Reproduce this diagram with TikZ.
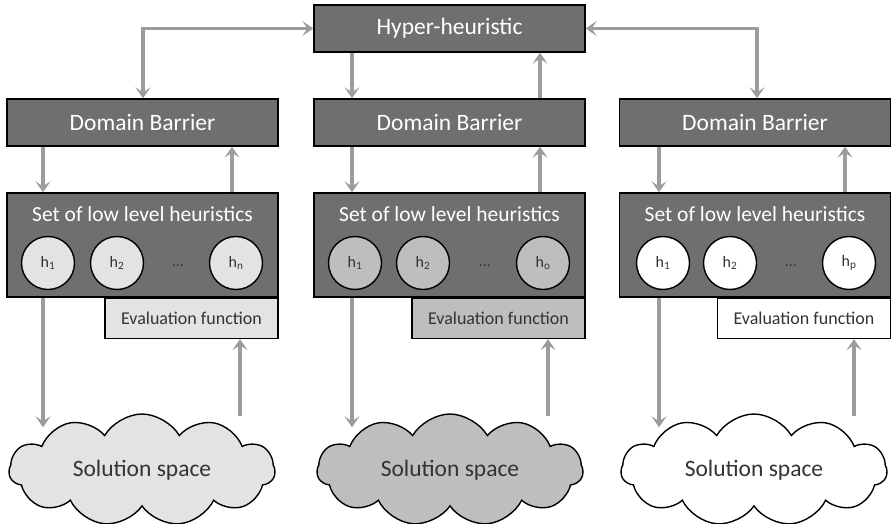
\documentclass[tikz,border=0pt]{standalone}
\usepackage{fontspec}
\setmainfont{Carlito}
\usetikzlibrary{arrows.meta,shapes.symbols,positioning}
\definecolor{boxgray}{HTML}{6F6F6F}
\definecolor{flowgray}{HTML}{9C9C9C}
\definecolor{lightfill}{HTML}{E3E3E3}
\definecolor{midfill}{HTML}{BEBEBE}
\definecolor{textgray}{HTML}{333333}
\tikzset{
  darkbox/.style={draw=black, line width=1.4pt, fill=boxgray, text=white,
    minimum width=271pt, minimum height=47pt, inner sep=0pt,
    font=\fontsize{23.5}{23.5}\selectfont},
  llhbox/.style={darkbox, minimum height=104pt},
  llhtitle/.style={text=white, inner sep=0pt, font=\fontsize{21.5}{21.5}\selectfont},
  evalbox/.style={draw=black, line width=1.4pt, text=textgray, minimum width=173pt,
    minimum height=40pt, inner sep=0pt, font=\fontsize{18}{18}\selectfont},
  hcircle/.style={circle, draw=black, line width=1.4pt, minimum size=53pt, inner sep=0pt,
    text=textgray, font=\fontsize{16}{16}\selectfont},
  hdots/.style={text=textgray, inner sep=0pt, font=\fontsize{16}{16}\selectfont},
  solcloud/.style={cloud, cloud puffs=11, cloud puff arc=120, aspect=2.5, draw=black,
    line width=1.4pt, minimum width=266pt, minimum height=112pt, inner sep=0pt,
    text=textgray, font=\fontsize{23.5}{23.5}\selectfont},
  flow/.style={draw=flowgray, line width=3.5pt,
    -{Stealth[length=11pt, width=15pt, inset=5pt]}},
  twoway/.style={flow, {Stealth[length=11pt, width=15pt, inset=5pt]}-{Stealth[length=11pt, width=15pt, inset=5pt]}}
}
\begin{document}
\begin{tikzpicture}[x=1pt, y=-1pt]
    \useasboundingbox (0,0) rectangle (891,524);
    % columns of the arrows
    \coordinate (tl) at (143,0);
    \coordinate (tr) at (757,0);
    \coordinate (dn1) at (43,0);
    \coordinate (up1) at (232,0);
    \coordinate (up1b) at (240,0);
    \coordinate (dn2) at (352,0);
    \coordinate (up2) at (540,0);
    \coordinate (up2b) at (548,0);
    \coordinate (dn3) at (659,0);
    \coordinate (up3) at (845,0);
    \coordinate (up3b) at (854,0);

    \node[darkbox] (hyp) at (449.5,28.5) {Hyper-heuristic};

    % left column
    \node[darkbox] (db1) at (142.5,122.5) {Domain Barrier};
    \node[llhbox] (llh1) at (142.5,245) {};
    \node[llhtitle] (t1) at (142.5,214) {Set of low level heuristics};
    \node[hcircle, fill=lightfill] (h11) at (48,263) {h\textsubscript{1}};
    \node[hcircle, fill=lightfill] (h12) at (117,263) {h\textsubscript{2}};
    \node[hdots] (d1) at (178,266) {\ldots};
    \node[hcircle, fill=lightfill] (h1n) at (236,263) {h\textsubscript{n}};
    \node[evalbox, fill=lightfill, anchor=north east] (ev1) at (llh1.south east) {Evaluation function};
    \node[solcloud, fill=lightfill] (sol1) at (142,470) {Solution space};

    % middle column
    \node[darkbox] (db2) at (449.5,122.5) {Domain Barrier};
    \node[llhbox] (llh2) at (449.5,245) {};
    \node[llhtitle] (t2) at (449.5,214) {Set of low level heuristics};
    \node[hcircle, fill=midfill] (h21) at (355,263) {h\textsubscript{1}};
    \node[hcircle, fill=midfill] (h22) at (423,263) {h\textsubscript{2}};
    \node[hdots] (d2) at (485,266) {\ldots};
    \node[hcircle, fill=midfill] (h2o) at (543,263) {h\textsubscript{o}};
    \node[evalbox, fill=midfill, anchor=north east] (ev2) at (llh2.south east) {Evaluation function};
    \node[solcloud, fill=midfill] (sol2) at (450,470) {Solution space};

    % right column
    \node[darkbox] (db3) at (755,122.5) {Domain Barrier};
    \node[llhbox] (llh3) at (755,245) {};
    \node[llhtitle] (t3) at (755,214) {Set of low level heuristics};
    \node[hcircle, fill=white] (h31) at (663,263) {h\textsubscript{1}};
    \node[hcircle, fill=white] (h32) at (730,263) {h\textsubscript{2}};
    \node[hdots] (d3) at (791,266) {\ldots};
    \node[hcircle, fill=white] (h3p) at (849,263) {h\textsubscript{p}};
    \node[evalbox, fill=white, anchor=north east] (ev3) at (llh3.south east) {Evaluation function};
    \node[solcloud, fill=white] (sol3) at (754,470) {Solution space};

    % hyper-heuristic <-> domain barriers
    \draw[twoway] (db1.north -| tl) |- (hyp.west);
    \draw[twoway] (db3.north -| tr) |- (hyp.east);
    \draw[flow] (hyp.south -| dn2) -- (db2.north -| dn2);
    \draw[flow] (db2.north -| up2) -- (hyp.south -| up2);

    % domain barriers <-> heuristics
    \draw[flow] (db1.south -| dn1) -- (llh1.north -| dn1);
    \draw[flow] (llh1.north -| up1) -- (db1.south -| up1);
    \draw[flow] (db2.south -| dn2) -- (llh2.north -| dn2);
    \draw[flow] (llh2.north -| up2) -- (db2.south -| up2);
    \draw[flow] (db3.south -| dn3) -- (llh3.north -| dn3);
    \draw[flow] (llh3.north -| up3) -- (db3.south -| up3);

    % heuristics <-> solution spaces
    \draw[flow] (llh1.south -| dn1) -- ([yshift=-14pt]sol1.north -| dn1);
    \draw[flow] ([yshift=-3pt]sol1.north -| up1b) -- (ev1.south -| up1b);
    \draw[flow] (llh2.south -| dn2) -- ([yshift=-14pt]sol2.north -| dn2);
    \draw[flow] ([yshift=-3pt]sol2.north -| up2b) -- (ev2.south -| up2b);
    \draw[flow] (llh3.south -| dn3) -- ([yshift=-14pt]sol3.north -| dn3);
    \draw[flow] ([yshift=-3pt]sol3.north -| up3b) -- (ev3.south -| up3b);
\end{tikzpicture}
\end{document}
